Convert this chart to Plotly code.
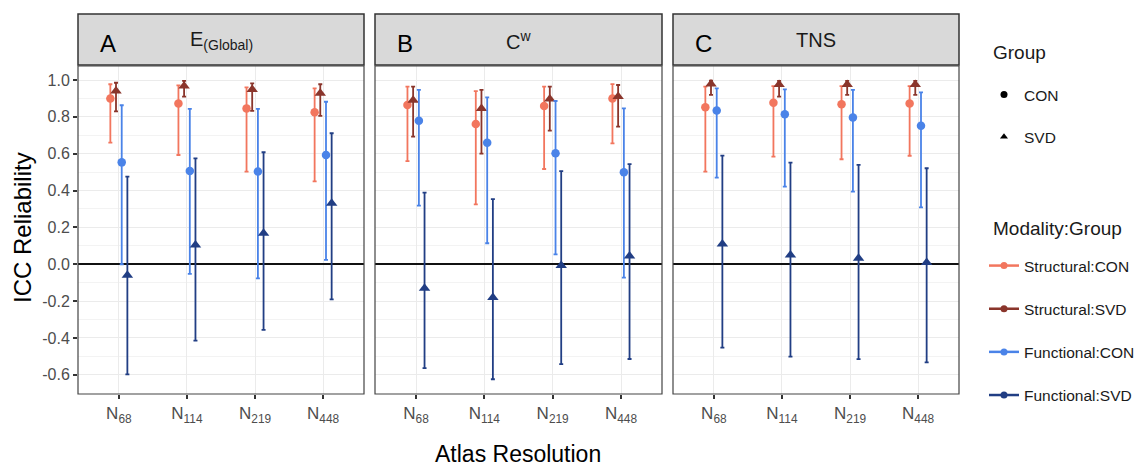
import plotly.graph_objects as go

# ---------------- data ----------------
atlas_labels = ["N<sub>68</sub>", "N<sub>114</sub>", "N<sub>219</sub>", "N<sub>448</sub>"]
panel_letters = ["A", "B", "C"]
panel_titles = ["E<sub>(Global)</sub>", "C<sup>w</sup>", "TNS"]
series_names = ["Structural:CON", "Structural:SVD", "Functional:CON", "Functional:SVD"]
series_colors = ["#F2765E", "#8A352B", "#4A83E8", "#213E84"]
series_symbols = ["circle", "triangle-up", "circle", "triangle-up"]
group_names = ["CON", "SVD"]
group_symbols = ["circle", "triangle-up"]
legend_titles = ["Group", "Modality:Group"]

# Panel A : E(Global)
eg_struct_con = [0.900, 0.873, 0.846, 0.825]
eg_struct_con_lo = [0.660, 0.593, 0.503, 0.450]
eg_struct_con_hi = [0.977, 0.971, 0.960, 0.955]
eg_struct_svd = [0.940, 0.967, 0.949, 0.928]
eg_struct_svd_lo = [0.830, 0.910, 0.832, 0.805]
eg_struct_svd_hi = [0.985, 0.995, 0.982, 0.977]
eg_func_con = [0.553, 0.506, 0.503, 0.593]
eg_func_con_lo = [0.000, -0.052, -0.076, 0.024]
eg_func_con_hi = [0.863, 0.843, 0.843, 0.882]
eg_func_svd = [-0.060, 0.105, 0.168, 0.331]
eg_func_svd_lo = [-0.597, -0.414, -0.356, -0.190]
eg_func_svd_hi = [0.476, 0.575, 0.608, 0.711]

# Panel B : Cw
cw_struct_con = [0.864, 0.761, 0.859, 0.900]
cw_struct_con_lo = [0.560, 0.325, 0.517, 0.656]
cw_struct_con_hi = [0.964, 0.940, 0.964, 0.978]
cw_struct_svd = [0.890, 0.846, 0.897, 0.910]
cw_struct_svd_lo = [0.693, 0.600, 0.725, 0.747]
cw_struct_svd_hi = [0.964, 0.946, 0.964, 0.973]
cw_func_con = [0.779, 0.660, 0.602, 0.499]
cw_func_con_lo = [0.318, 0.114, 0.054, -0.072]
cw_func_con_hi = [0.946, 0.906, 0.886, 0.846]
cw_func_svd = [-0.130, -0.180, -0.007, 0.045]
cw_func_svd_lo = [-0.564, -0.624, -0.542, -0.514]
cw_func_svd_hi = [0.389, 0.354, 0.506, 0.544]

# Panel C : TNS
tns_struct_con = [0.852, 0.877, 0.868, 0.873]
tns_struct_con_lo = [0.503, 0.584, 0.570, 0.589]
tns_struct_con_hi = [0.964, 0.967, 0.967, 0.967]
tns_struct_svd = [0.978, 0.976, 0.976, 0.976]
tns_struct_svd_lo = [0.919, 0.910, 0.919, 0.919]
tns_struct_svd_hi = [0.996, 0.995, 0.995, 0.995]
tns_func_con = [0.834, 0.814, 0.797, 0.752]
tns_func_con_lo = [0.470, 0.421, 0.394, 0.309]
tns_func_con_hi = [0.955, 0.949, 0.946, 0.933]
tns_func_svd = [0.110, 0.050, 0.033, 0.009]
tns_func_svd_lo = [-0.452, -0.501, -0.515, -0.532]
tns_func_svd_hi = [0.590, 0.552, 0.539, 0.521]

y_tick_vals = [-0.6, -0.4, -0.2, 0.0, 0.2, 0.4, 0.6, 0.8, 1.0]
y_tick_text = ["-0.6", "-0.4", "-0.2", "0.0", "0.2", "0.4", "0.6", "0.8", "1.0"]

panels = [
    [(eg_struct_con, eg_struct_con_lo, eg_struct_con_hi),
     (eg_struct_svd, eg_struct_svd_lo, eg_struct_svd_hi),
     (eg_func_con, eg_func_con_lo, eg_func_con_hi),
     (eg_func_svd, eg_func_svd_lo, eg_func_svd_hi)],
    [(cw_struct_con, cw_struct_con_lo, cw_struct_con_hi),
     (cw_struct_svd, cw_struct_svd_lo, cw_struct_svd_hi),
     (cw_func_con, cw_func_con_lo, cw_func_con_hi),
     (cw_func_svd, cw_func_svd_lo, cw_func_svd_hi)],
    [(tns_struct_con, tns_struct_con_lo, tns_struct_con_hi),
     (tns_struct_svd, tns_struct_svd_lo, tns_struct_svd_hi),
     (tns_func_con, tns_func_con_lo, tns_func_con_hi),
     (tns_func_svd, tns_func_svd_lo, tns_func_svd_hi)],
]

# ---------------- layout geometry ----------------
OFF = 8                      # page body margin
W, H = 1142 - OFF, 468 - OFF
FONT = "Liberation Sans, Arial, sans-serif"


def px(xp):
    return (xp - OFF) / W


def py(yp):
    return 1 - (yp - OFF) / H


panel_px = [(78, 364), (375, 662), (673, 959)]
plot_top, plot_bot = 66, 394
strip_top, strip_bot = 14, 65
dodge = [-0.125, -0.042, 0.042, 0.125]
cat_pos = [1, 2, 3, 4]

fig = go.Figure()

for p, series in enumerate(panels):
    ax = "" if p == 0 else str(p + 1)
    for s, (vals, lo, hi) in enumerate(series):
        xs = [c + dodge[s] for c in cat_pos]
        fig.add_trace(go.Scatter(
            x=xs, y=vals, mode="markers",
            xaxis="x" + ax, yaxis="y" + ax,
            marker=dict(color=series_colors[s], symbol=series_symbols[s],
                        size=10 if "triangle" in series_symbols[s] else 8.5),
            error_y=dict(type="data", symmetric=False,
                         array=[h - v for h, v in zip(hi, vals)],
                         arrayminus=[v - l for v, l in zip(vals, lo)],
                         color=series_colors[s], thickness=1.8, width=2),
            showlegend=False, hoverinfo="skip"))

# legend-only traces
for name, sym in zip(group_names, group_symbols):
    fig.add_trace(go.Scatter(
        x=[None], y=[None], mode="markers", name=name, legend="legend",
        legendgroup="g_" + name,
        marker=dict(color="black", symbol=sym, size=7)))
for s, name in enumerate(series_names):
    fig.add_trace(go.Scatter(
        x=[None], y=[None], mode="lines+markers", name=name, legend="legend2",
        legendgroup="m_" + name,
        line=dict(color=series_colors[s], width=2.5),
        marker=dict(color=series_colors[s], symbol="circle", size=7)))

layout = dict(
    width=W, height=H, margin=dict(l=0, r=0, t=0, b=0),
    paper_bgcolor="white", plot_bgcolor="white",
    font=dict(family=FONT, color="#1a1a1a"),
    legend=dict(x=px(984), y=py(78), xanchor="left", yanchor="top",
                font=dict(size=15.5, color="#1a1a1a"), traceorder="grouped",
                tracegroupgap=19, itemwidth=30, bgcolor="rgba(0,0,0,0)"),
    legend2=dict(x=px(984), y=py(249), xanchor="left", yanchor="top",
                 font=dict(size=15.5, color="#1a1a1a"), traceorder="grouped",
                 tracegroupgap=20, itemwidth=30, bgcolor="rgba(0,0,0,0)"),
)

shapes = []
annotations = []
for p in range(3):
    ax = "" if p == 0 else str(p + 1)
    x0, x1 = panel_px[p]
    layout["xaxis" + ax] = dict(
        domain=[px(x0), px(x1)], anchor="y" + ax, range=[0.4, 4.6],
        tickvals=cat_pos, ticktext=atlas_labels, ticks="outside", ticklen=4,
        tickwidth=1.5, tickcolor="#333333",
        tickfont=dict(size=17, color="#4d4d4d", family=FONT),
        showgrid=True, gridcolor="#EBEBEB", gridwidth=1, zeroline=False,
        showline=False, fixedrange=True)
    layout["yaxis" + ax] = dict(
        domain=[py(plot_bot), py(plot_top)], anchor="x" + ax,
        range=[-0.704, 1.076], tickvals=y_tick_vals,
        ticktext=y_tick_text if p == 0 else None,
        showticklabels=(p == 0), ticks="outside" if p == 0 else "",
        ticklen=4, tickwidth=1.5, tickcolor="#333333",
        tickfont=dict(size=16, color="#4d4d4d", family=FONT),
        showgrid=True, gridcolor="#EBEBEB", gridwidth=1,
        minor=dict(dtick=0.1, tick0=0, showgrid=True, gridcolor="#F3F3F3", gridwidth=0.8),
        zeroline=True, zerolinecolor="#111111", zerolinewidth=1.8,
        showline=False, fixedrange=True)
    # panel border
    shapes.append(dict(type="rect", xref="paper", yref="paper",
                       x0=px(x0), x1=px(x1), y0=py(plot_bot), y1=py(plot_top),
                       line=dict(color="#444444", width=1.2), layer="above"))
    # strip
    shapes.append(dict(type="rect", xref="paper", yref="paper",
                       x0=px(x0), x1=px(x1), y0=py(strip_bot), y1=py(strip_top),
                       fillcolor="#D9D9D9", line=dict(color="#333333", width=1.5), layer="below"))
    annotations.append(dict(text=panel_letters[p], xref="paper", yref="paper",
                            x=px(x0 + 30), y=py(43), xanchor="center", yanchor="middle",
                            showarrow=False, font=dict(size=24, color="#000000", family=FONT)))
    annotations.append(dict(text=panel_titles[p], xref="paper", yref="paper",
                            x=px((x0 + x1) / 2), y=py(40), xanchor="center", yanchor="middle",
                            showarrow=False, font=dict(size=20, color="#1a1a1a", family=FONT)))

# legend titles
for title, ty in zip(legend_titles, [53, 228]):
    annotations.append(dict(text=title, xref="paper", yref="paper",
                            x=px(991), y=py(ty), xanchor="left", yanchor="middle",
                            showarrow=False, font=dict(size=19, color="#1a1a1a", family=FONT)))

annotations.append(dict(text="ICC Reliability", xref="paper", yref="paper",
                        x=px(22), y=py(228), textangle=-90, xanchor="center", yanchor="middle",
                        showarrow=False, font=dict(size=24, color="#000000", family=FONT)))
annotations.append(dict(text="Atlas Resolution", xref="paper", yref="paper",
                        x=px(518), y=py(454), xanchor="center", yanchor="middle",
                        showarrow=False, font=dict(size=23, color="#000000", family=FONT)))

layout["shapes"] = shapes
layout["annotations"] = annotations
fig.update_layout(**layout)

fig.write_html("out.html")
